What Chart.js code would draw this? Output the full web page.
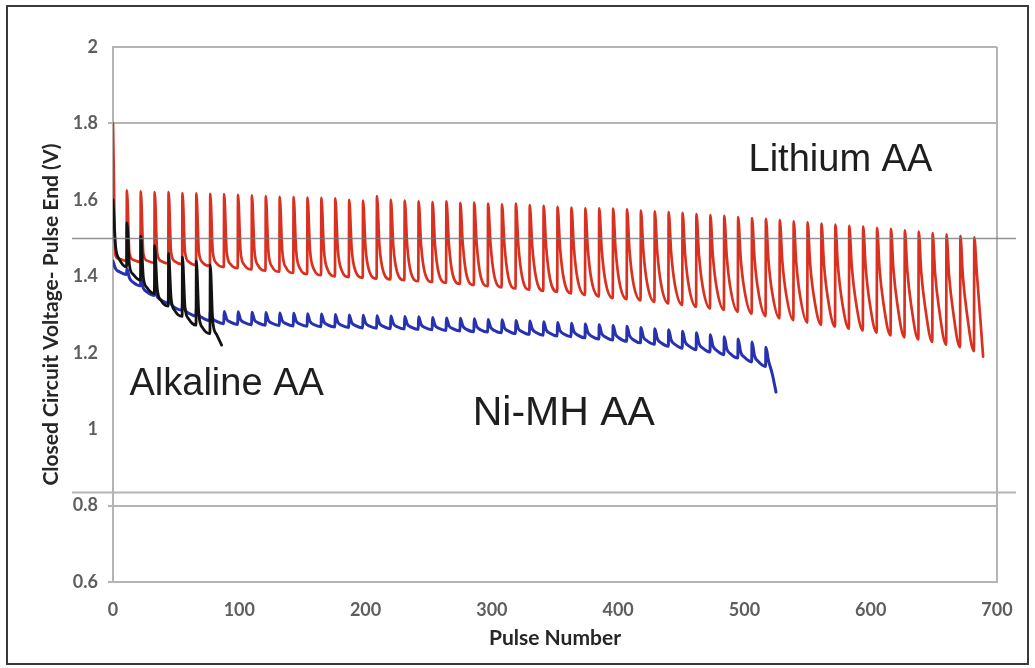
<!DOCTYPE html>
<html>
<head>
<meta charset="utf-8">
<script src="https://cdn.jsdelivr.net/npm/chart.js@4.4.0/dist/chart.umd.min.js"></script>
<style>
  html, body { margin: 0; padding: 0; background: #ffffff; }
  #wrap { width: 1035px; height: 668px; position: relative; }
</style>
</head>
<body>
<div id="wrap"><canvas id="c" width="1035" height="668"></canvas></div>
<script>
// ---------------- DATA ----------------
// Each "tooth" of a sawtooth: starting pulse, value at the recovery peak,
// value 2 pulses later (knee), 5 pulses later (mid) and at the end of the tooth (trough).

const xTickValues = [0, 100, 200, 300, 400, 500, 600, 700];
const xTickLabels = ['0', '100', '200', '300', '400', '500', '600', '700'];
const yTickValues = [0.6, 0.8, 1.0, 1.2, 1.4, 1.6, 1.8, 2.0];
const yTickLabels = ['0.6', '0.8', '1', '1.2', '1.4', '1.6', '1.8', '2'];
const yGridValues = [0.6, 0.8, 1.8, 2.0];

// Lithium AA (red)
const liStart = [0, 11, 22, 33, 44, 55, 66, 77, 88, 99, 110, 121, 132, 143, 154, 165, 176, 187, 198, 209, 220,
  231, 242, 253, 264, 275, 286, 297, 308, 319, 330, 341, 352, 363, 374, 385, 396, 407, 418, 429, 440,
  451, 462, 473, 484, 495, 506, 517, 528, 539, 550, 561, 572, 583, 594, 605, 616, 627, 638, 649, 660, 671, 682];
const liPeak = [1.800,
  1.625, 1.622, 1.620, 1.620, 1.618, 1.617, 1.616, 1.615, 1.613, 1.612,
  1.610, 1.608, 1.607, 1.606, 1.605, 1.604, 1.600, 1.598, 1.610, 1.600,
  1.598, 1.596, 1.594, 1.596, 1.592, 1.593, 1.590, 1.588, 1.590, 1.586,
  1.584, 1.582, 1.580, 1.578, 1.578, 1.577, 1.575, 1.572, 1.570, 1.568,
  1.566, 1.563, 1.560, 1.558, 1.555, 1.552, 1.550, 1.547, 1.544, 1.541,
  1.538, 1.535, 1.532, 1.530, 1.527, 1.524, 1.520, 1.517, 1.513, 1.510,
  1.506, 1.502];
const liKnee = [1.455,
  1.460, 1.460, 1.461, 1.463, 1.464, 1.465, 1.465, 1.466, 1.466, 1.467,
  1.467, 1.468, 1.468, 1.469, 1.470, 1.472, 1.472, 1.473, 1.480, 1.478,
  1.479, 1.480, 1.482, 1.484, 1.484, 1.484, 1.482, 1.481, 1.481, 1.478,
  1.477, 1.475, 1.473, 1.471, 1.470, 1.469, 1.468, 1.465, 1.463, 1.461,
  1.459, 1.457, 1.454, 1.452, 1.449, 1.446, 1.443, 1.440, 1.437, 1.434,
  1.431, 1.429, 1.426, 1.424, 1.420, 1.418, 1.414, 1.411, 1.407, 1.404,
  1.399, 1.410];
const liMid = [1.445,
  1.443, 1.441, 1.440, 1.439, 1.438, 1.436, 1.434, 1.432, 1.430, 1.428,
  1.425, 1.423, 1.421, 1.419, 1.417, 1.416, 1.414, 1.413, 1.413, 1.411,
  1.409, 1.408, 1.407, 1.405, 1.403, 1.402, 1.400, 1.399, 1.398, 1.396,
  1.394, 1.392, 1.390, 1.388, 1.386, 1.385, 1.383, 1.381, 1.379, 1.377,
  1.374, 1.372, 1.370, 1.367, 1.364, 1.360, 1.357, 1.354, 1.350, 1.347,
  1.344, 1.341, 1.339, 1.335, 1.331, 1.329, 1.325, 1.322, 1.318, 1.314,
  1.308, 1.280];
const liTrough = [1.440,
  1.437, 1.435, 1.433, 1.431, 1.429, 1.427, 1.424, 1.421, 1.418, 1.415,
  1.412, 1.409, 1.406, 1.403, 1.400, 1.398, 1.396, 1.394, 1.392, 1.390,
  1.387, 1.385, 1.383, 1.380, 1.377, 1.374, 1.371, 1.368, 1.365, 1.362,
  1.359, 1.355, 1.351, 1.347, 1.343, 1.340, 1.337, 1.333, 1.329, 1.325,
  1.320, 1.316, 1.312, 1.307, 1.302, 1.296, 1.290, 1.285, 1.279, 1.273,
  1.268, 1.263, 1.258, 1.252, 1.245, 1.240, 1.234, 1.228, 1.221, 1.214,
  1.204, 1.190];
const liEnd = 689;

// Ni-MH AA (blue)
const niStart = [0, 11, 22, 33, 44, 55, 66, 77, 88, 99, 110, 121, 132, 143, 154, 165, 176, 187, 198, 209,
  220, 231, 242, 253, 264, 275, 286, 297, 308, 319, 330, 341, 352, 363, 374, 385, 396, 407, 418, 429,
  440, 451, 462, 473, 484, 495, 506, 517];
const niPeak = [1.440, 1.420, 1.392, 1.368, 1.348, 1.332, 1.318, 1.310,
  1.308, 1.307, 1.306, 1.305, 1.304, 1.303, 1.302, 1.301, 1.300, 1.299,
  1.298, 1.297, 1.296, 1.295, 1.294, 1.292, 1.291, 1.290, 1.289, 1.287,
  1.286, 1.284, 1.283, 1.281, 1.279, 1.277, 1.275, 1.273, 1.271, 1.269,
  1.266, 1.263, 1.260, 1.256, 1.252, 1.247, 1.242, 1.236, 1.228, 1.214];
const niKnee = [1.420, 1.396, 1.369, 1.347, 1.328, 1.312, 1.299, 1.290,
  1.288, 1.287, 1.286, 1.285, 1.284, 1.283, 1.282, 1.281, 1.280, 1.279,
  1.278, 1.277, 1.276, 1.275, 1.274, 1.272, 1.271, 1.270, 1.269, 1.267,
  1.265, 1.263, 1.262, 1.260, 1.258, 1.255, 1.253, 1.250, 1.248, 1.245,
  1.241, 1.237, 1.233, 1.229, 1.224, 1.218, 1.210, 1.202, 1.192, 1.180];
const niMid = [1.412, 1.384, 1.359, 1.338, 1.318, 1.303, 1.291, 1.282,
  1.280, 1.279, 1.278, 1.277, 1.276, 1.275, 1.274, 1.273, 1.272, 1.271,
  1.270, 1.269, 1.268, 1.267, 1.266, 1.264, 1.263, 1.261, 1.260, 1.258,
  1.257, 1.255, 1.253, 1.251, 1.249, 1.246, 1.243, 1.241, 1.238, 1.234,
  1.231, 1.226, 1.222, 1.218, 1.212, 1.206, 1.197, 1.188, 1.177, 1.145];
const niTrough = [1.405, 1.375, 1.350, 1.330, 1.311, 1.296, 1.284, 1.276,
  1.274, 1.273, 1.272, 1.271, 1.270, 1.269, 1.268, 1.267, 1.266, 1.265,
  1.264, 1.263, 1.262, 1.261, 1.260, 1.258, 1.257, 1.255, 1.254, 1.252,
  1.250, 1.248, 1.246, 1.244, 1.242, 1.239, 1.236, 1.233, 1.230, 1.226,
  1.222, 1.217, 1.212, 1.208, 1.202, 1.195, 1.186, 1.176, 1.164, 1.097];
const niEnd = 525;

// Alkaline AA (black)
const alStart  = [0, 11, 22, 33, 44, 55, 66, 77];
const alPeak   = [1.600, 1.540, 1.505, 1.480, 1.460, 1.450, 1.440, 1.430];
const alKnee   = [1.480, 1.430, 1.398, 1.368, 1.343, 1.320, 1.300, 1.282];
const alMid    = [1.445, 1.405, 1.370, 1.337, 1.310, 1.288, 1.265, 1.248];
const alTrough = [1.425, 1.390, 1.355, 1.322, 1.295, 1.272, 1.250, 1.220];
const alEnd = 86;

// In-plot labels
const noteText  = ['Lithium AA', 'Alkaline AA', 'Ni-MH AA'];
const notePulse = [576, 90, 357];
const noteVolt  = [1.676, 1.089, 1.011];
const noteSize  = [38, 38, 41];

// Stray horizontal rules seen in the picture
const strayRuleValues = [1.5, 0.836];

// ---------------- BUILD ----------------
const KNEE_AT = 2, MID_AT = 5, RISE = 0.25;
function buildTeeth(starts, peaks, knees, mids, troughs, endPulse) {
  const pts = [];
  for (let i = 0; i < starts.length; i++) {
    const s = starts[i];
    const last = i + 1 >= starts.length;
    const e = last ? endPulse : starts[i + 1] - RISE;
    pts.push({ x: s, y: peaks[i] });
    pts.push({ x: s + KNEE_AT, y: knees[i] });
    pts.push({ x: s + MID_AT, y: mids[i] });
    pts.push({ x: e, y: troughs[i] });
  }
  return pts;
}

const GRID = '#b4b4b4';
const TXT_FONT = 'Lato, "Open Sans", sans-serif';
const near = (a, b) => Math.abs(a - b) < 1e-6;

const framePlugin = {
  id: 'frame',
  beforeDraw(chart) {
    const c = chart.ctx;
    c.save();
    c.fillStyle = '#ffffff';
    c.fillRect(0, 0, chart.width, chart.height);
    c.restore();
  },
  afterDatasetsDraw(chart) {
    const c = chart.ctx, a = chart.chartArea, y = chart.scales.y;
    c.save();
    strayRuleValues.forEach((v, i) => {
      const py = Math.round(y.getPixelForValue(v)) + 0.5;
      c.beginPath();
      c.strokeStyle = i === 0 ? 'rgba(120,120,120,0.8)' : GRID;
      c.lineWidth = i === 0 ? 1.3 : 2;
      c.moveTo(a.left - 41, py);
      c.lineTo(a.right + 19, py);
      c.stroke();
    });
    c.restore();
  },
  afterDraw(chart) {
    const c = chart.ctx, x = chart.scales.x, y = chart.scales.y;
    c.save();
    c.fillStyle = '#1e1e1e';
    c.textAlign = 'center';
    c.textBaseline = 'alphabetic';
    noteText.forEach((t, i) => {
      c.font = noteSize[i] + 'px "Liberation Sans", Arial, sans-serif';
      c.fillText(t, x.getPixelForValue(notePulse[i]), y.getPixelForValue(noteVolt[i]));
    });
    c.strokeStyle = '#3a3a3a';
    c.lineWidth = 2;
    c.strokeRect(7, 6, 1021, 658);
    c.restore();
  }
};

const lineStyle = { pointRadius: 0, cubicInterpolationMode: 'monotone', borderJoinStyle: 'round', borderCapStyle: 'round' };

new Chart(document.getElementById('c').getContext('2d'), {
  type: 'line',
  data: {
    datasets: [
      Object.assign({ label: 'Alkaline AA', data: buildTeeth(alStart, alPeak, alKnee, alMid, alTrough, alEnd),
        borderColor: '#121212', borderWidth: 2.8 }, lineStyle),
      Object.assign({ label: 'Lithium AA', data: buildTeeth(liStart, liPeak, liKnee, liMid, liTrough, liEnd),
        borderColor: '#d9301f', borderWidth: 2.7 }, lineStyle),
      Object.assign({ label: 'Ni-MH AA', data: buildTeeth(niStart, niPeak, niKnee, niMid, niTrough, niEnd),
        borderColor: '#2632b0', borderWidth: 3 }, lineStyle)
    ]
  },
  options: {
    responsive: false,
    animation: false,
    events: [],
    layout: { padding: { left: 0, top: 47, right: 38, bottom: 0 } },
    plugins: { legend: { display: false }, tooltip: { enabled: false } },
    scales: {
      x: {
        type: 'linear', min: 0, max: 700,
        afterBuildTicks: s => { s.ticks = xTickValues.map(v => ({ value: v })); },
        afterFit: s => { s.height = 86; },
        ticks: {
          callback: (v) => xTickLabels[xTickValues.indexOf(v)],
          color: '#5e5e5e', padding: 17, maxRotation: 0,
          font: { family: TXT_FONT, size: 18, weight: 'bold' }
        },
        grid: {
          drawTicks: false, lineWidth: 2,
          color: ctx => (ctx.tick && ctx.tick.value === 700) ? GRID : 'rgba(0,0,0,0)'
        },
        border: { display: true, color: GRID, width: 2 },
        title: {
          display: true, text: 'Pulse Number', color: '#262626',
          font: { family: TXT_FONT, size: 21, weight: 'bold' },
          padding: { top: 0, bottom: 17 }
        }
      },
      y: {
        type: 'linear', min: 0.6, max: 2.0,
        afterBuildTicks: s => { s.ticks = yTickValues.map(v => ({ value: v })); },
        afterFit: s => { s.width = 113; },
        ticks: {
          callback: (v) => { const i = yTickValues.findIndex(t => near(t, v)); return i >= 0 ? yTickLabels[i] : ''; },
          color: '#5e5e5e', padding: 10,
          font: { family: TXT_FONT, size: 18, weight: 'bold' }
        },
        grid: {
          drawTicks: true, tickLength: 5, lineWidth: 2,
          color: ctx => (ctx.tick && yGridValues.some(g => near(g, ctx.tick.value))) ? GRID : 'rgba(0,0,0,0)',
          tickColor: ctx => (ctx.tick && [0.6, 0.8, 1.8].some(g => near(g, ctx.tick.value))) ? GRID : 'rgba(0,0,0,0)'
        },
        border: { display: true, color: GRID, width: 2 },
        title: {
          display: true, text: 'Closed Circuit Voltage- Pulse End (V)', color: '#262626',
          font: { family: TXT_FONT, size: 21, weight: 'bold' },
          padding: { top: 39, bottom: 0 }
        }
      }
    }
  },
  plugins: [framePlugin]
});
</script>
</body>
</html>
